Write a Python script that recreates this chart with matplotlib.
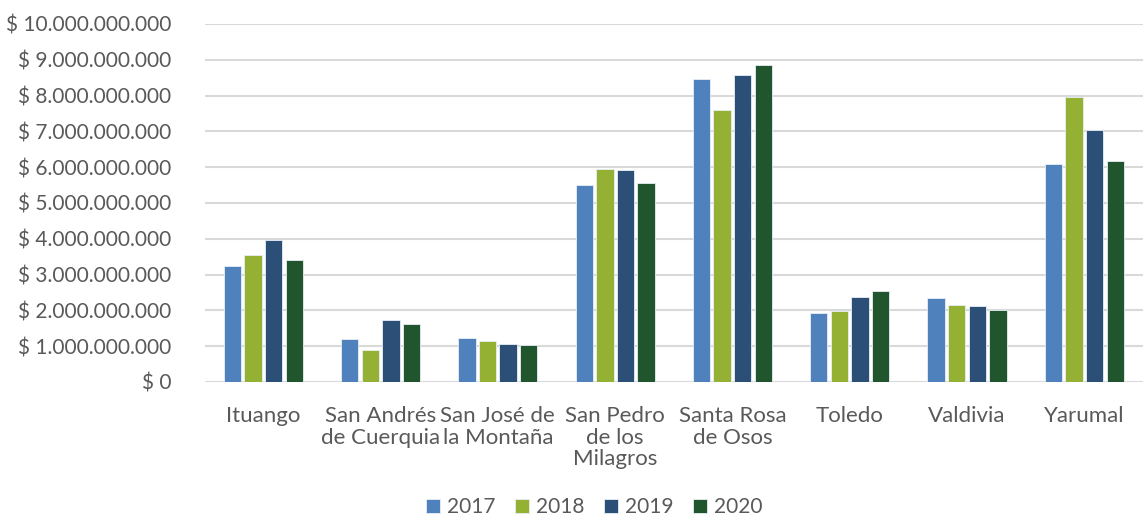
import matplotlib
matplotlib.use("Agg")
import matplotlib.pyplot as plt
import numpy as np
from matplotlib.ticker import FuncFormatter

plt.rcParams['font.family'] = ['Lato', 'DejaVu Sans']

categories = ["Ituango", "San Andrés\nde Cuerquia", "San José de\nla Montaña",
              "San Pedro\nde los\nMilagros", "Santa Rosa\nde Osos", "Toledo",
              "Valdivia", "Yarumal"]
years = ["2017", "2018", "2019", "2020"]
v2017 = [3.24e9, 1.19e9, 1.24e9, 5.50e9, 8.46e9, 1.92e9, 2.34e9, 6.10e9]
v2018 = [3.55e9, 0.89e9, 1.14e9, 5.96e9, 7.60e9, 1.99e9, 2.15e9, 7.97e9]
v2019 = [3.97e9, 1.73e9, 1.05e9, 5.92e9, 8.56e9, 2.36e9, 2.13e9, 7.04e9]
v2020 = [3.41e9, 1.62e9, 1.03e9, 5.55e9, 8.85e9, 2.54e9, 2.01e9, 6.17e9]
series = [v2017, v2018, v2019, v2020]
colors = ["#4F81BD", "#95B133", "#2C4F78", "#21552E"]

fig = plt.figure(figsize=(11.43, 5.2), dpi=100)
ax = fig.add_axes([0.179, 0.2654, 0.821, 0.6886])

x = np.arange(len(categories))
slot = 0.176
bw = 0.148
for i, (vals, c, y) in enumerate(zip(series, colors, years)):
    ax.bar(x + (i - 1.5) * slot, vals, width=bw, color=c, edgecolor="#e8eef5",
           linewidth=0.6, label=y, zorder=3)

ax.set_xlim(-0.5, len(categories) - 0.5)
ax.set_ylim(0, 10e9)
ax.set_yticks(np.arange(0, 10.01e9, 1e9))

def fmt(v, pos):
    if v == 0:
        return "$ 0"
    return "$ " + f"{int(round(v)):,}".replace(",", ".")
ax.yaxis.set_major_formatter(FuncFormatter(fmt))
ax.grid(axis="y", color="#d9d9d9", linewidth=1.5, zorder=0)
for s in ax.spines.values():
    s.set_visible(False)
ax.tick_params(axis="y", length=0, pad=24, labelsize=15, labelcolor="#595959")
ax.tick_params(axis="x", length=0, pad=17, labelsize=16, labelcolor="#595959")
ax.set_xticks(x)
ax.set_xticklabels(categories, linespacing=1.12)

leg = fig.legend(loc="center", ncol=4,
                 frameon=False, fontsize=15, handlelength=0.65, handleheight=0.65,
                 columnspacing=0.95, handletextpad=0.35)
for t in leg.get_texts():
    t.set_color("#595959")
leg.set_bbox_to_anchor((0.52, 0.025), transform=fig.transFigure)

fig.savefig("out.png", dpi=100)
